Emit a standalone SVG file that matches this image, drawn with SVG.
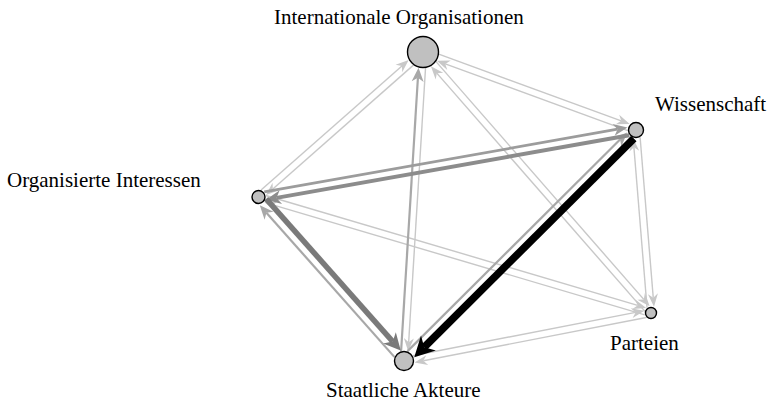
<svg xmlns="http://www.w3.org/2000/svg" width="770" height="402" viewBox="0 0 770 402">
<style>
  .lbl{font-family:"Liberation Serif","Times New Roman",serif;font-size:21px;fill:#000}
  .node{fill:#c0c0c0;stroke:#000;stroke-width:1.4}
  .e{fill:none;stroke-linecap:butt}
  .lt{stroke:#c8c8c8;stroke-width:1.4;marker-end:url(#mLt)}
  .md{stroke:#a8a8a8;stroke-width:2.2;marker-end:url(#mMd)}
  .md2{stroke:#9c9c9c;stroke-width:2.8;marker-end:url(#mMd2)}
  .dk1{stroke:#8c8c8c;stroke-width:4;marker-end:url(#mDk1)}
  .dk2{stroke:#7a7a7a;stroke-width:5.5;marker-end:url(#mDk2)}
  .bk{stroke:#000;stroke-width:7.5;marker-end:url(#mBk)}
</style>
<defs>
  <marker id="mLt" markerUnits="userSpaceOnUse" orient="auto" refX="4" refY="0" markerWidth="20" markerHeight="20" overflow="visible"><path d="M0,-5 L13,0 L0,5 L4,0 z" fill="#c8c8c8"/></marker>
  <marker id="mMd" markerUnits="userSpaceOnUse" orient="auto" refX="4" refY="0" markerWidth="20" markerHeight="20" overflow="visible"><path d="M0,-6 L14,0 L0,6 L4,0 z" fill="#a8a8a8"/></marker>
  <marker id="mMd2" markerUnits="userSpaceOnUse" orient="auto" refX="4" refY="0" markerWidth="20" markerHeight="20" overflow="visible"><path d="M0,-6 L14,0 L0,6 L4,0 z" fill="#9c9c9c"/></marker>
  <marker id="mDk1" markerUnits="userSpaceOnUse" orient="auto" refX="4.5" refY="0" markerWidth="20" markerHeight="20" overflow="visible"><path d="M0,-7 L15,0 L0,7 L4.5,0 z" fill="#8c8c8c"/></marker>
  <marker id="mDk2" markerUnits="userSpaceOnUse" orient="auto" refX="5" refY="0" markerWidth="20" markerHeight="20" overflow="visible"><path d="M0,-8.5 L17,0 L0,8.5 L5,0 z" fill="#7a7a7a"/></marker>
  <marker id="mBk" markerUnits="userSpaceOnUse" orient="auto" refX="6" refY="0" markerWidth="24" markerHeight="24" overflow="visible"><path d="M0,-10.5 L20,0 L0,10.5 L6,0 z" fill="#000"/></marker>
</defs>
<g id="connectors">
  <line class="e lt" x1="438.76" y1="54.04" x2="621.24" y2="120.87"/>
  <line class="e lt" x1="627.75" y1="130.71" x2="445.27" y2="63.89"/>
  <line class="e lt" x1="413.69" y1="64.88" x2="272.82" y2="189.05"/>
  <line class="e lt" x1="261.06" y1="190.08" x2="401.93" y2="65.91"/>
  <line class="e lt" x1="425.54" y1="67.69" x2="408.66" y2="342.25"/>
  <line class="e lt" x1="435.83" y1="61.37" x2="643.77" y2="299.40"/>
  <line class="e lt" x1="644.75" y1="311.16" x2="436.81" y2="73.13"/>
  <line class="e lt" x1="640.10" y1="137.19" x2="653.26" y2="297.76"/>
  <line class="e lt" x1="647.06" y1="307.80" x2="633.90" y2="147.23"/>
  <line class="e lt" x1="265.73" y1="195.49" x2="637.61" y2="305.39"/>
  <line class="e lt" x1="644.73" y1="314.80" x2="272.85" y2="204.89"/>
  <line class="e lt" x1="412.66" y1="355.75" x2="635.61" y2="312.43"/>
  <line class="e lt" x1="646.27" y1="317.49" x2="423.32" y2="360.81"/>
  <line class="e md" x1="401.09" y1="351.30" x2="417.91" y2="77.74"/>
  <line class="e md" x1="407.56" y1="351.11" x2="620.07" y2="139.51"/>
  <line class="e md" x1="394.33" y1="356.88" x2="266.42" y2="212.70"/>
  <line class="e md2" x1="264.20" y1="191.93" x2="617.58" y2="129.21"/>
  <line class="e dk1" x1="629.31" y1="135.25" x2="276.43" y2="197.88"/>
  <line class="e dk2" x1="266.18" y1="198.88" x2="392.77" y2="341.56"/>
  <line class="e bk" x1="633.86" y1="138.48" x2="424.18" y2="347.25"/>
</g>
<g id="node-io"><circle class="node" cx="423" cy="52" r="15.5"/><text class="lbl" x="274" y="24">Internationale Organisationen</text></g>
<g id="node-wissenschaft"><circle class="node" cx="636" cy="130" r="7.5"/><text class="lbl" x="655" y="111">Wissenschaft</text></g>
<g id="node-oi"><circle class="node" cx="258.5" cy="197" r="6.5"/><text class="lbl" x="7" y="187">Organisierte Interessen</text></g>
<g id="node-staat"><circle class="node" cx="404" cy="361" r="9.5"/><text class="lbl" x="326" y="397">Staatliche Akteure</text></g>
<g id="node-parteien"><circle class="node" cx="651" cy="313" r="5.5"/><text class="lbl" x="610" y="350">Parteien</text></g>
</svg>
